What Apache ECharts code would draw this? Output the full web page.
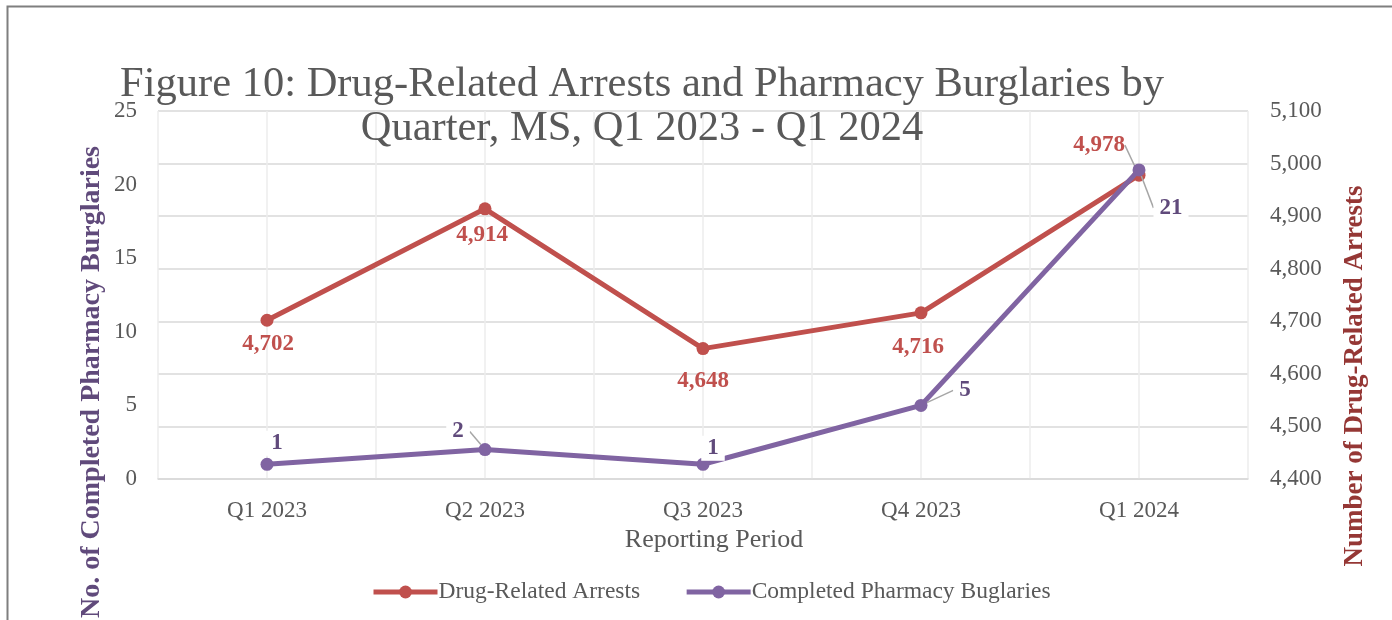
<!DOCTYPE html>
<html>
<head>
<meta charset="utf-8">
<script src="https://cdn.jsdelivr.net/npm/echarts@6/dist/echarts.min.js"></script>
<style>html,body{margin:0;padding:0;background:#fff;}#c{width:1392px;height:620px;}</style>
</head>
<body>
<div id="c"></div>
<script>
var categories = ['Q1 2023', 'Q2 2023', 'Q3 2023', 'Q4 2023', 'Q1 2024'];
var arrests = [4702, 4914, 4648, 4716, 4978];
var burglaries = [1, 2, 1, 5, 21];
var leftTicks = { min: 0, max: 25, interval: 5 };
var rightTicks = { min: 4400, max: 5100, interval: 100 };

// label placement (label centre relative to marker), kept apart from data
var arrestLabelShift = [[1, 24], [-3, 26], [0, 32], [-3, 34], [-40, -30]];
var arrestLeader = [false, false, false, false, true];
var burgLabelShift = [[10, -21], [-27, -18], [10, -16], [44, -15], [32, 38]];
var burgLeader = [false, true, false, true, true];

var SERIF = '"Liberation Serif", "Times New Roman", serif';
var RED = '#c0504d', PURPLE = '#8064a2';
var GREY = '#595959';

function fmt(v) { return String(v).replace(/\B(?=(\d{3})+(?!\d))/g, ','); }

function buildData(vals, leaders) {
  return vals.map(function (v, i) {
    return { value: v, labelLine: { show: leaders[i] } };
  });
}

var chart = echarts.init(document.getElementById('c'));
chart.setOption({
  animation: false,
  backgroundColor: '#fff',
  title: {
    text: 'Figure 10: Drug-Related Arrests and Pharmacy Burglaries by\nQuarter, MS, Q1 2023 - Q1 2024',
    left: 637, top: 58, textAlign: 'center',
    textStyle: { fontFamily: SERIF, fontSize: 42.5, fontWeight: 'normal', color: GREY, lineHeight: 44 }
  },
  grid: { left: 158, right: 144, top: 111, bottom: 141 },
  legend: {
    left: 366, top: 575,
    itemWidth: 64, itemHeight: 16, itemGap: 44,
    lineStyle: { width: 5 },
    textStyle: { fontFamily: SERIF, fontSize: 23.5, color: GREY, padding: [0, 0, 0, -4] },
    data: ['Drug-Related Arrests', 'Completed Pharmacy Buglaries']
  },
  xAxis: [{
    type: 'category', data: categories, boundaryGap: true,
    axisLine: { lineStyle: { color: '#d9d9d9', width: 1.5 } },
    axisTick: { show: false },
    axisLabel: { fontFamily: SERIF, fontSize: 23, color: GREY, margin: 20 },
    splitLine: { show: false }
  }, {
    type: 'value', position: 'top', min: 0, max: categories.length * 2, interval: 1,
    axisLine: { show: false }, axisTick: { show: false }, axisLabel: { show: false },
    splitLine: { show: true, lineStyle: { color: '#ececec', width: 1.5 } }
  }],
  yAxis: [{
    type: 'value', min: leftTicks.min, max: leftTicks.max, interval: leftTicks.interval,
    axisLine: { show: false }, axisTick: { show: false },
    axisLabel: { fontFamily: SERIF, fontSize: 23, color: GREY, margin: 21 },
    splitLine: { show: false }
  }, {
    type: 'value', min: rightTicks.min, max: rightTicks.max, interval: rightTicks.interval,
    axisLine: { show: false }, axisTick: { show: false },
    axisLabel: { fontFamily: SERIF, fontSize: 23, color: GREY, margin: 22, formatter: fmt },
    splitLine: { show: true, lineStyle: { color: '#d9d9d9', width: 1.5 } }
  }],
  series: [{
    name: 'Drug-Related Arrests', type: 'line', xAxisIndex: 0, yAxisIndex: 1,
    data: buildData(arrests, arrestLeader),
    symbol: 'circle', symbolSize: 13,
    itemStyle: { color: RED }, lineStyle: { color: RED, width: 5 },
    label: {
      show: true, position: 'inside', formatter: function (p) { return fmt(p.value); },
      fontFamily: SERIF, fontSize: 23, fontWeight: 'bold', color: RED
    },
    labelLine: { lineStyle: { color: '#a6a6a6', width: 1.5 } },
    labelLayout: function (p) { var s = arrestLabelShift[p.dataIndex]; return { dx: s[0], dy: s[1] }; },
    z: 2
  }, {
    name: 'Completed Pharmacy Buglaries', type: 'line', xAxisIndex: 0, yAxisIndex: 0,
    data: buildData(burglaries, burgLeader),
    symbol: 'circle', symbolSize: 13,
    itemStyle: { color: PURPLE }, lineStyle: { color: PURPLE, width: 5 },
    label: {
      show: true, position: 'inside',
      fontFamily: SERIF, fontSize: 23, fontWeight: 'bold', color: '#604a7b',
      backgroundColor: '#fff', padding: [1, 6]
    },
    labelLine: { lineStyle: { color: '#a6a6a6', width: 1.5 } },
    labelLayout: function (p) { var s = burgLabelShift[p.dataIndex]; return { dx: s[0], dy: s[1] }; },
    z: 3
  }],
  graphic: [{
    type: 'rect', left: 5, top: 4, silent: true,
    shape: { x: 0, y: 0, width: 2000, height: 2000 },
    style: { fill: 'none', stroke: '#7f7f7f', lineWidth: 2 }
  }, {
    type: 'text', x: 92, y: 382, rotation: Math.PI / 2,
    style: { text: 'No. of Completed Pharmacy Burglaries', fontFamily: SERIF, fontSize: 28, fontWeight: 'bold',
      fill: '#604a7b', textAlign: 'center', textVerticalAlign: 'middle' }
  }, {
    type: 'text', x: 1355, y: 376, rotation: Math.PI / 2,
    style: { text: 'Number of Drug-Related Arrests', fontFamily: SERIF, fontSize: 27, fontWeight: 'bold',
      fill: '#953735', textAlign: 'center', textVerticalAlign: 'middle' }
  }, {
    type: 'text', x: 714, y: 540,
    style: { text: 'Reporting Period', fontFamily: SERIF, fontSize: 26,
      fill: GREY, textAlign: 'center', textVerticalAlign: 'middle' }
  }]
});
</script>
</body>
</html>
